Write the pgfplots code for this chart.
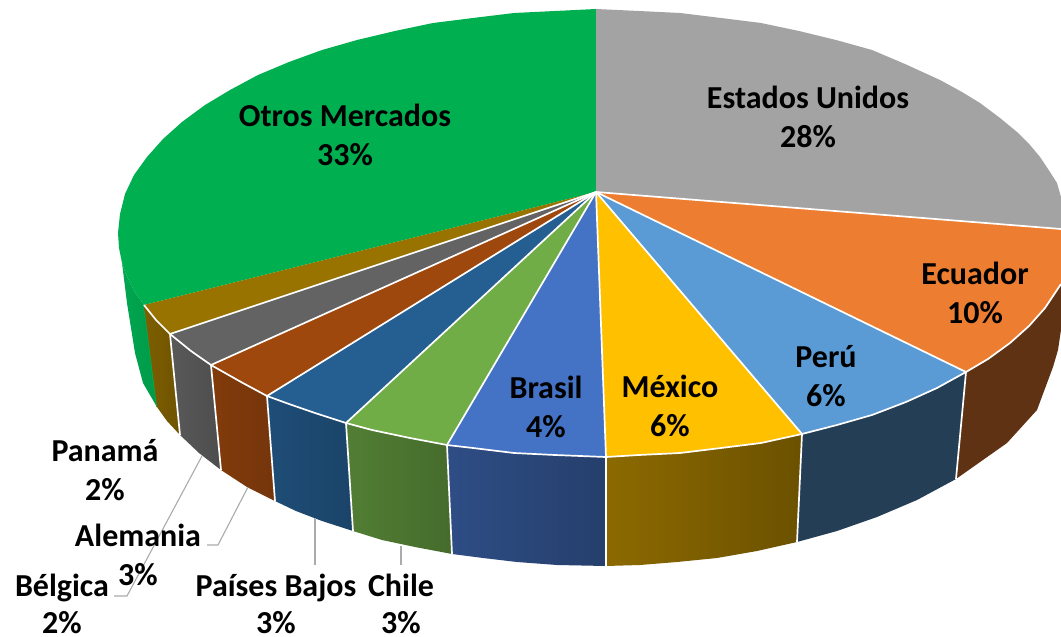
\documentclass[border=0pt]{standalone}
\usepackage{fontspec}
\setmainfont{Carlito}
\usepackage{pgfplots}
\pgfplotsset{compat=1.18}
\definecolor{cGray}{HTML}{A3A3A3}
\definecolor{cOrange}{HTML}{ED7D31}
\definecolor{cSky}{HTML}{5B9BD5}
\definecolor{cYellow}{HTML}{FFC000}
\definecolor{cBlue}{HTML}{4472C4}
\definecolor{cLeaf}{HTML}{70AD47}
\definecolor{cNavy}{HTML}{255E91}
\definecolor{cRust}{HTML}{9E480E}
\definecolor{cSlate}{HTML}{636363}
\definecolor{cGold}{HTML}{997300}
\definecolor{cOtros}{HTML}{00AF50}
\definecolor{cOtrosL}{HTML}{00A651}
\definecolor{cOtrosR}{HTML}{009A48}
\definecolor{cLeader}{HTML}{ABABAB}

\begin{document}
\begin{tikzpicture}[
    lbl/.style={font=\fontsize{32}{39}\selectfont\bfseries, align=center, text=black, inner sep=0pt},
    sep/.style={white, line width=1.7pt, line join=round},
    lead/.style={cLeader, line width=1.1pt},
  ]
\begin{axis}[
    scale only axis,
    width=1061pt, height=637pt,
    xmin=0, xmax=1061, ymin=0, ymax=637,
    y dir=reverse,
    hide axis,
  ]
% page background, keeps the whole frame in the bounding box
\addplot[fill=white, draw=none] coordinates {(0,0) (1061,0) (1061,637) (0,637)};

% side walls, left to right
\addplot[draw=none, shade, left color=cOtrosL, right color=cOtrosR] coordinates {
  (122,263) (125,272) (130,283) (136,294) (144,305) (157,407) (143,383) (135,353) (127,303)};
\addplot[cOtros, line width=1.4pt] coordinates {(144,305) (157,407)};
\addplot[draw=none, shade, left color=cGold!82!black, right color=cGold!72!black] coordinates {
  (144,305) (156,320) (170,334) (180,435) (167,421) (157,407)};
\addplot[draw=none, shade, left color=cSlate!90!black, right color=cSlate!78!black] coordinates {
  (170,334) (191,351) (211,365) (221,470) (199,453) (180,435)};
\addplot[draw=none, shade, left color=cRust!82!black, right color=cRust!74!black] coordinates {
  (211,365) (241,382) (267,396) (275,501) (247,487) (221,470)};
\addplot[draw=none, shade, left color=cNavy!82!black, right color=cNavy!72!black] coordinates {
  (267,396) (289,404) (315,413) (346,423) (353,531) (322,521) (296,511) (275,501)};
\addplot[draw=none, shade, left color=cLeaf!73!black, right color=cLeaf!62!black] coordinates {
  (346,423) (372,430) (410,438) (447,445) (452,554) (415,547) (382,540) (353,531)};
\addplot[draw=none, shade, left color=cBlue!68!black, right color=cBlue!55!black] coordinates {
  (447,445) (473,448) (514,453) (555,455) (606,457) (606,566) (557,565) (517,562) (483,558) (452,554)};
\addplot[draw=none, shade, left color=cYellow!55!black, right color=cYellow!42!black] coordinates {
  (606,457) (639,455) (680,453) (721,448) (761,443) (802,434) (797,542) (757,551) (717,558) (677,562) (640,565) (606,566)};
\addplot[fill=cSky!40!black, draw=none] coordinates {
  (802,434) (837,425) (872,415) (906,402) (937,388) (966,372) (956,479) (917,500) (877,517) (837,531) (797,542)};
\addplot[fill=cOrange!40!black, draw=none] coordinates {
  (966,372) (988,359) (1010,343) (1029,326) (1045,308) (1061,284) (1061,330) (1058,350) (1053,367) (1037,410) (1007,443) (956,479)};

% top face
\addplot[fill=cOtros, draw=none] coordinates {
  (596,192) (144,305) (136,294) (130,283) (125,272) (122,263) (119,248) (118,233) (120,214) (125,194) (134,175) (147,157)
  (163,139) (182,122) (205,105) (230,90) (258,75) (289,62) (322,50) (357,40) (395,31) (433,23)
  (473,18) (514,13) (555,11) (596,9)};
\addplot[fill=cGray, draw=none] coordinates {
  (596,192) (596,9) (639,11) (680,13) (721,18) (761,23) (799,31) (836,40) (872,50) (905,64)
  (940,80) (962,92) (980,103) (1000,118) (1017,132) (1030,145) (1040,157) (1050,172) (1057,183) (1061,197) (1061,229)};
\addplot[fill=cOrange, draw=none] coordinates {
  (596,192) (1061,229) (1061,284) (1045,308) (1029,326) (1010,343) (988,359) (966,372)};
\addplot[fill=cSky, draw=none] coordinates {
  (596,192) (966,372) (937,388) (906,402) (872,415) (837,425) (802,434)};
\addplot[fill=cYellow, draw=none] coordinates {
  (596,192) (802,434) (761,443) (721,448) (680,453) (639,455) (606,457)};
\addplot[fill=cBlue, draw=none] coordinates {
  (596,192) (606,457) (555,455) (514,453) (473,448) (447,445)};
\addplot[fill=cLeaf, draw=none] coordinates {
  (596,192) (447,445) (410,438) (372,430) (346,423)};
\addplot[fill=cNavy, draw=none] coordinates {
  (596,192) (346,423) (315,413) (289,404) (267,396)};
\addplot[fill=cRust, draw=none] coordinates {
  (596,192) (267,396) (241,382) (211,365)};
\addplot[fill=cSlate, draw=none] coordinates {
  (596,192) (211,365) (191,351) (170,334)};
\addplot[fill=cGold, draw=none] coordinates {
  (596,192) (170,334) (156,320) (144,305)};

% white separators
\addplot[sep] coordinates {(144,305) (156,320) (170,334) (191,351) (211,365) (241,382) (267,396) (289,404)
  (315,413) (346,423) (372,430) (410,438) (447,445) (473,448) (514,453) (555,455) (606,457) (639,455)
  (680,453) (721,448) (761,443) (802,434) (837,425) (872,415) (906,402) (937,388) (966,372) (988,359)
  (1010,343) (1029,326) (1045,308) (1061,284)};
\addplot[sep] coordinates {(596,192) (1061,229)};
\addplot[sep] coordinates {(596,192) (966,372) (956,479)};
\addplot[sep] coordinates {(596,192) (802,434) (797,542)};
\addplot[sep] coordinates {(596,192) (606,457) (606,566)};
\addplot[sep] coordinates {(596,192) (447,445) (452,554)};
\addplot[sep] coordinates {(596,192) (346,423) (353,531)};
\addplot[sep] coordinates {(596,192) (267,396) (275,501)};
\addplot[sep] coordinates {(596,192) (211,365) (221,470)};
\addplot[sep] coordinates {(596,192) (170,334) (180,435)};

% leader lines
\addplot[lead] coordinates {(207,545) (218,545) (248,487)};
\addplot[lead] coordinates {(114,596) (127,596) (202,456)};
\addplot[lead] coordinates {(315,518) (315,565)};
\addplot[lead] coordinates {(401,546) (401,565)};

% data labels
\node[lbl] at (axis cs:345,135) {Otros Mercados\\33\%};
\node[lbl] at (axis cs:808,117) {Estados Unidos\\28\%};
\node[lbl] at (axis cs:975,293) {Ecuador\\10\%};
\node[lbl] at (axis cs:826,376) {Perú\\6\%};
\node[lbl] at (axis cs:670,406) {México\\6\%};
\node[lbl] at (axis cs:546,407) {Brasil\\4\%};
\node[lbl] at (axis cs:105,470) {Panamá\\2\%};
\node[lbl] at (axis cs:138,555) {Alemania\\3\%};
\node[lbl] at (axis cs:62,604) {Bélgica\\[-2pt]2\%};
\node[lbl] at (axis cs:276,604) {Países Bajos\\[-2pt]3\%};
\node[lbl] at (axis cs:401,604) {Chile\\[-2pt]3\%};
\end{axis}
\end{tikzpicture}
\end{document}
